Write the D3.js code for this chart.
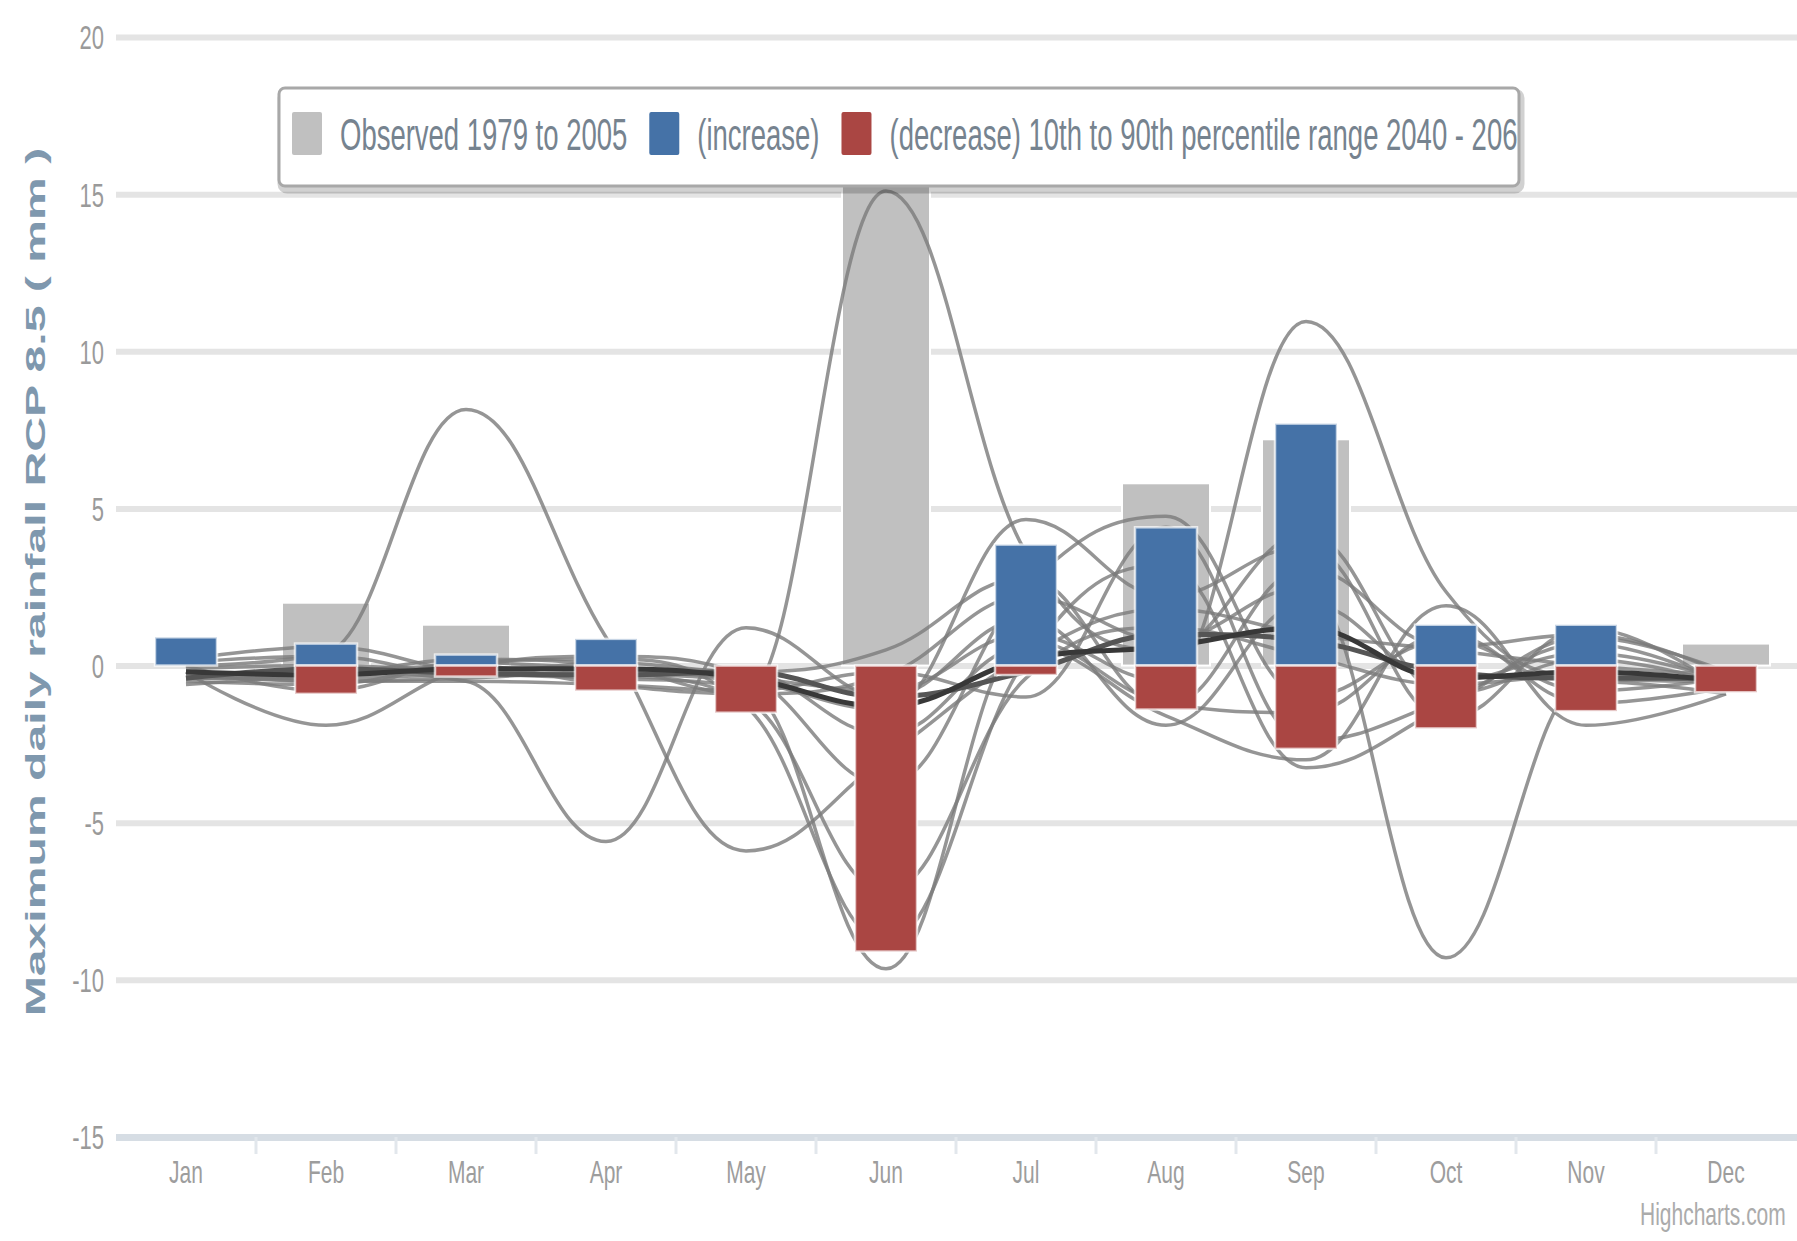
<!DOCTYPE html>
<html>
<head>
<meta charset="utf-8">
<script src="https://cdn.jsdelivr.net/npm/d3@7"></script>
<style>
  body { margin: 0; background: #fff; }
  svg { display: block; font-family: "Liberation Sans", Arial, sans-serif; }
</style>
</head>
<body>
<div id="chart"></div>
<script>
// categories and ticks
var months = ["Jan", "Feb", "Mar", "Apr", "May", "Jun", "Jul", "Aug", "Sep", "Oct", "Nov", "Dec"];
var yTicks = [-15, -10, -5, 0, 5, 10, 15, 20];

// column series
var observed = [0, 2.0, 1.3, 0, 0, 15.4, 0, 5.8, 7.2, 0, 0, 0.7];
var increase = [0.9, 0.7, 0.35, 0.85, 0, 0, 3.85, 4.4, 7.7, 1.3, 1.3, 0];
var decrease = [0, -0.9, -0.35, -0.8, -1.5, -9.1, -0.3, -1.4, -2.65, -2.0, -1.45, -0.85];

// model runs (spline lines)
var runA = [0.0, 0.4, 8.15, 0.9, -5.9, -2.9, 0.3, 1.8, 1.0, 0.5, 0.0, -0.3];
var runB = [-0.3, -0.2, -0.5, -5.6, 1.2, -1.0, 1.5, -1.9, 2.0, -0.5, 0.4, -0.5];
var runC = [-0.2, -1.9, -0.1, 0.3, -0.3, -3.8, 2.5, 4.75, -1.0, 0.8, -0.8, -0.4];
var runD = [-0.4, -0.3, 0.2, 0.0, -0.9, 15.1, 3.6, 0.5, 4.2, -0.9, 0.2, -0.6];
var runE = [0.2, 0.6, -0.2, -0.4, -0.7, -9.65, 0.8, -1.2, -1.5, 1.0, -1.2, -0.7];
var runF = [-0.5, -0.6, 0.1, 0.2, -1.3, -8.8, 0.2, 3.2, -3.25, -1.3, 0.9, -0.2];
var runG = [-0.4, -0.4, -0.3, -0.3, -0.5, -1.4, 4.65, 2.2, 3.8, -1.7, 1.2, -0.8];
var runH = [-0.2, -0.5, -0.4, -0.2, -0.4, -0.8, 1.0, -0.5, 10.95, 2.35, -0.4, -0.5];
var runI = [-0.6, -0.3, 0.0, -0.6, -0.9, -0.3, 2.2, 0.8, 2.5, -9.3, -0.5, -0.9];
var runJ = [0.0, -0.8, 0.1, -0.1, -0.2, -2.2, 0.6, -1.6, -3.0, 1.9, -1.9, -0.9];
var runK = [-0.3, -0.5, -0.5, -0.6, -0.8, -0.2, -1.0, 4.4, -2.4, -1.1, 0.7, -0.6];
var runL = [0.1, 0.3, -0.3, 0.1, -0.2, 0.5, 2.8, -1.3, 3.1, 0.6, 1.0, -0.3];
var runM = [-0.1, 0.0, -0.2, -0.3, -1.1, -7.2, -0.4, 1.2, 0.3, -0.6, -0.3, -0.4];
var runMean = [-0.2, -0.3, -0.1, -0.1, -0.4, -1.3, 0.2, 0.6, 1.2, -0.4, -0.2, -0.5];
var runMean2 = [-0.4, -0.1, -0.25, -0.3, -0.2, -1.0, -0.2, 1.0, 0.8, -0.2, -0.4, -0.4];
var runs = [runA, runB, runC, runD, runE, runF, runG, runH, runI, runJ, runK, runL, runM];

var legendItems = [
    { name: "Observed 1979 to 2005", color: "#c0c0c0" },
    { name: "(increase)", color: "#4572a7" },
    { name: "(decrease) 10th to 90th percentile range 2040 - 2065", color: "#aa4643" }
];

// picture is stretched vertically, so the text is too
var SY = 1.5;
var width = 1797, height = 1241;
var plot = { left: 116, right: 1796, top: 37, bottom: 1137 };

var svg = d3.select("#chart").append("svg")
    .attr("width", width)
    .attr("height", height);

var x = d3.scaleBand().domain(months).range([plot.left, plot.right]);
var y = d3.scaleLinear().domain([-15, 20]).range([plot.bottom, plot.top]);
var cx = function (m) { return x(m) + x.bandwidth() / 2; };

// grid lines + y labels
var yAxis = svg.append("g")
    .attr("transform", "translate(" + plot.left + ",0)")
    .call(d3.axisLeft(y).tickValues(yTicks)
        .tickFormat(function (d) { return String(d); })
        .tickSize(-(width - plot.left)).tickPadding(12));
yAxis.select(".domain").remove();
yAxis.selectAll(".tick line")
    .style("stroke", function (d) { return d === -15 ? "#d6dde4" : "#e4e4e4"; })
    .style("stroke-width", function (d) { return d === -15 ? 7 : 6; });
yAxis.selectAll(".tick text")
    .attr("dy", "0.36em")
    .attr("transform", "scale(1," + SY + ")")
    .style("font-size", "22px")
    .style("fill", "#9a9a9a");

// x ticks at category edges
svg.append("g").selectAll("line")
    .data(months.slice(1))
    .enter().append("line")
    .attr("x1", function (m) { return x(m); })
    .attr("x2", function (m) { return x(m); })
    .attr("y1", plot.bottom)
    .attr("y2", plot.bottom + 17)
    .style("stroke", "#e2e7ec")
    .style("stroke-width", 3);

// x labels
var xAxis = svg.append("g")
    .attr("transform", "translate(0," + plot.bottom + ")")
    .call(d3.axisBottom(x).tickSize(0).tickPadding(0));
xAxis.select(".domain").remove();
xAxis.selectAll(".tick text")
    .attr("y", 0)
    .attr("dy", 0)
    .attr("transform", "translate(0,46) scale(1," + SY + ")")
    .style("font-size", "21px")
    .style("fill", "#9d9d9d");

// observed column sits behind the lines
var greyW = 88, barW = 62;
svg.append("g").selectAll("rect")
    .data(observed)
    .enter().append("rect")
    .attr("x", function (d, i) { return cx(months[i]) - greyW / 2; })
    .attr("width", greyW)
    .attr("y", function (d) { return y(Math.max(0, d)); })
    .attr("height", function (d) { return Math.abs(y(d) - y(0)); })
    .style("fill", "#c0c0c0")
    .style("stroke", "#fff")
    .style("stroke-width", 2);

// Highcharts-like spline: control points 40% towards neighbours, flattened at extremes
function hcSpline(context) {
    var pts;
    return {
        areaStart: function () {}, areaEnd: function () {},
        lineStart: function () { pts = []; },
        point: function (px, py) { pts.push([+px, +py]); },
        lineEnd: function () {
            var n = pts.length, ctrl = [];
            for (var i = 1; i < n - 1; i++) {
                var lx = pts[i - 1][0], ly = pts[i - 1][1],
                    px = pts[i][0], py = pts[i][1],
                    nx = pts[i + 1][0], ny = pts[i + 1][1];
                var lcx = (1.5 * px + lx) / 2.5, lcy = (1.5 * py + ly) / 2.5,
                    rcx = (1.5 * px + nx) / 2.5, rcy = (1.5 * py + ny) / 2.5;
                var corr = ((rcy - lcy) * (rcx - px)) / (rcx - lcx) + py - rcy;
                lcy += corr; rcy += corr;
                if (lcy > ly && lcy > py) { lcy = Math.max(ly, py); rcy = 2 * py - lcy; }
                else if (lcy < ly && lcy < py) { lcy = Math.min(ly, py); rcy = 2 * py - lcy; }
                if (rcy > ny && rcy > py) { rcy = Math.max(ny, py); lcy = 2 * py - rcy; }
                else if (rcy < ny && rcy < py) { rcy = Math.min(ny, py); lcy = 2 * py - rcy; }
                ctrl[i] = { l: [lcx, lcy], r: [rcx, rcy] };
            }
            context.moveTo(pts[0][0], pts[0][1]);
            for (var j = 1; j < n; j++) {
                var a = ctrl[j - 1] ? ctrl[j - 1].r : pts[j - 1],
                    b = ctrl[j] ? ctrl[j].l : pts[j];
                context.bezierCurveTo(a[0], a[1], b[0], b[1], pts[j][0], pts[j][1]);
            }
        }
    };
}

var line = d3.line()
    .x(function (d, i) { return cx(months[i]); })
    .y(function (d) { return y(d); })
    .curve(hcSpline);

svg.append("g").selectAll("path")
    .data(runs)
    .enter().append("path")
    .attr("d", line)
    .style("fill", "none")
    .style("stroke", "#7a7a7a")
    .style("stroke-opacity", 0.8)
    .style("stroke-width", 3.5);

svg.append("g").selectAll("path")
    .data([runMean2, runMean])
    .enter().append("path")
    .attr("d", line)
    .style("fill", "none")
    .style("stroke", function (d, i) { return i ? "#383838" : "#555"; })
    .style("stroke-width", 5);

// increase / decrease columns on top
function columns(data, color) {
    svg.append("g").selectAll("rect")
        .data(data)
        .enter().append("rect")
        .attr("x", function (d, i) { return cx(months[i]) - barW / 2; })
        .attr("width", barW)
        .attr("y", function (d) { return y(Math.max(0, d)); })
        .attr("height", function (d) { return Math.abs(y(d) - y(0)); })
        .style("fill", color)
        .style("stroke", "#fff")
        .style("stroke-opacity", 0.7)
        .style("stroke-width", 2.5);
}
columns(increase, "#4572a7");
columns(decrease, "#aa4643");

// legend
var box = { x: 279, y: 88, w: 1240, h: 98 };
svg.append("rect")
    .attr("x", box.x + 2).attr("y", box.y + 4)
    .attr("width", box.w).attr("height", box.h)
    .attr("rx", 6)
    .style("fill", "none")
    .style("stroke", "#000")
    .style("stroke-opacity", 0.18)
    .style("stroke-width", 7);
svg.append("rect")
    .attr("x", box.x).attr("y", box.y)
    .attr("width", box.w).attr("height", box.h)
    .attr("rx", 6)
    .style("fill", "#fff")
    .style("stroke", "#a8a8a8")
    .style("stroke-width", 3);

svg.append("clipPath").attr("id", "legend-clip")
    .append("rect")
    .attr("x", box.x).attr("y", box.y)
    .attr("width", box.w - 2).attr("height", box.h);

var legend = svg.append("g").attr("clip-path", "url(#legend-clip)");
var lx = 292;
legendItems.forEach(function (item) {
    legend.append("rect")
        .attr("x", lx).attr("y", 112)
        .attr("width", 30).attr("height", 43)
        .attr("rx", 2)
        .style("fill", item.color);
    var t = legend.append("text")
        .attr("transform", "translate(" + (lx + 48) + ",150) scale(1," + SY * 1.08 + ")")
        .style("font-size", "27.5px")
        .style("fill", "#76838f")
        .text(item.name);
    lx += 48 + t.node().getComputedTextLength() + 22;
});

// y axis title
svg.append("text")
    .attr("transform", "translate(45," + ((plot.top + plot.bottom) / 2 - 5) + ") scale(1,1.72) rotate(-90)")
    .attr("text-anchor", "middle")
    .style("font-size", "28px")
    .style("font-weight", "bold")
    .style("fill", "#7f98ae")
    .text("Maximum daily rainfall RCP 8.5 ( mm )");

// credits
svg.append("text")
    .attr("transform", "translate(1640,1225) scale(1," + SY + ")")
    .style("font-size", "21px")
    .style("fill", "#ababab")
    .text("Highcharts.com");
</script>
</body>
</html>
